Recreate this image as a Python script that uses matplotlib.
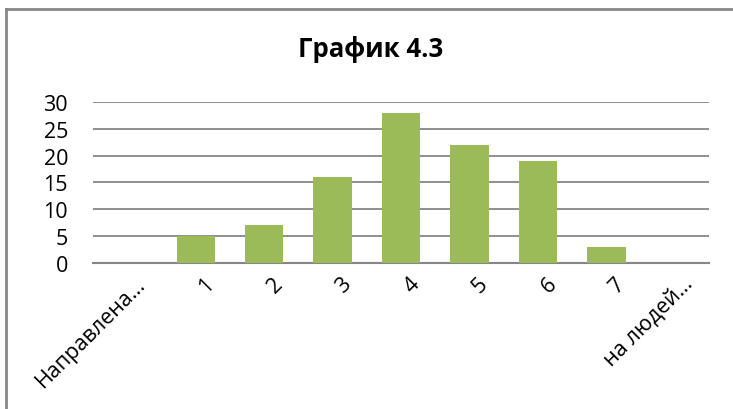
import matplotlib
matplotlib.use("Agg")
import matplotlib.pyplot as plt
import matplotlib.transforms as mtransforms
from matplotlib.lines import Line2D

plt.rcParams['font.family'] = ['Open Sans', 'DejaVu Sans']

# chart data
categories = ["Направлена…", "1", "2", "3", "4", "5", "6", "7", "на людей…"]
counts = [0, 5, 7, 16, 28, 22, 19, 3, 0]
title = "График 4.3"

bar_color = "#9BBB59"
grid_color = "#868686"

fig = plt.figure(figsize=(7.33, 4.10), dpi=100)
ax = fig.add_axes([0.1269, 0.3561, 0.8404, 0.3927])

x = range(len(categories))
ax.bar(x, counts, width=0.56, color=bar_color, zorder=3)

ax.set_xlim(-0.5, len(categories) - 0.5)
ax.set_ylim(0, 30)
ax.set_yticks(range(0, 31, 5))
ax.yaxis.grid(True, color=grid_color, linewidth=1.3, zorder=0)
ax.set_axisbelow(True)

for side in ("top", "right", "left"):
    ax.spines[side].set_visible(False)
ax.spines["bottom"].set_color(grid_color)
ax.spines["bottom"].set_linewidth(1.5)

ax.tick_params(axis="y", length=0, pad=18, labelsize=15.5)
ax.tick_params(axis="x", length=0, pad=7, labelsize=15.5)
ax.set_xticks(list(x))
ax.set_xticklabels(categories, rotation=45, ha="right", va="top",
                   rotation_mode="anchor")

# nudge the slanted labels to the right of their category centres
shift = mtransforms.ScaledTranslation(8 / 100, 0, fig.dpi_scale_trans)
for lbl in ax.get_xticklabels():
    lbl.set_transform(lbl.get_transform() + shift)

fig.text(0.506, 0.88, title, ha="center", va="center",
         fontsize=18.5, fontweight="bold")

# outer frame of the chart area
fig.add_artist(Line2D([0.0082, 0.0082], [0.0, 0.976], transform=fig.transFigure,
                      color="#878787", linewidth=2))
fig.add_artist(Line2D([0.0082, 1.0], [0.976, 0.976], transform=fig.transFigure,
                      color="#878787", linewidth=2))

fig.savefig("out.png", dpi=100)
